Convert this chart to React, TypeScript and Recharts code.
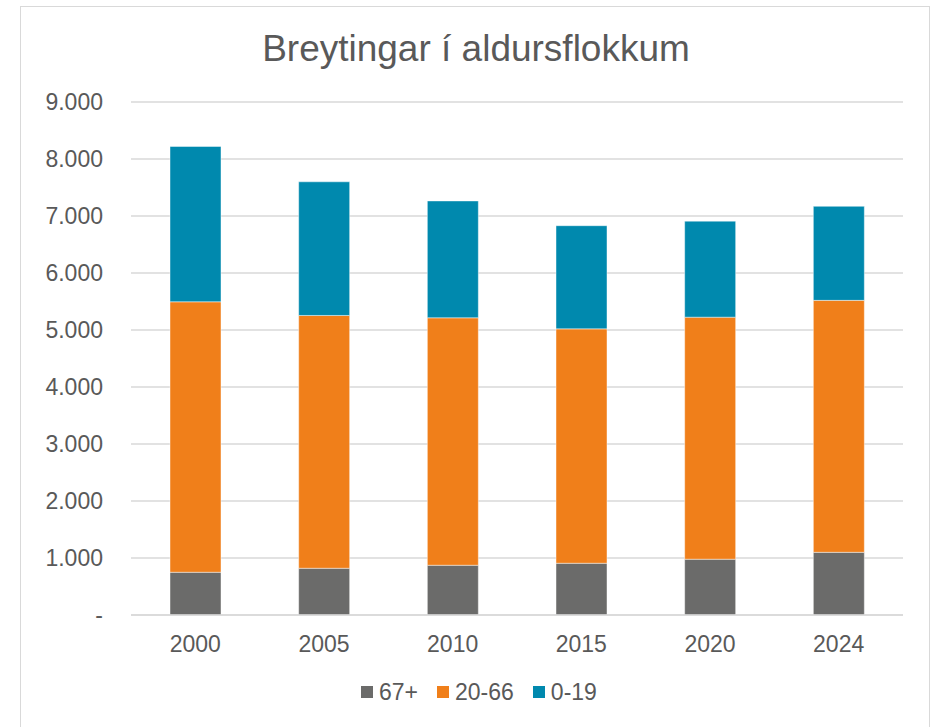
import { BarChart, Bar, XAxis, YAxis, CartesianGrid } from "recharts"

// Íbúafjöldi eftir aldursflokkum (lesið af myndinni)
const years = ["2000", "2005", "2010", "2015", "2020", "2024"]
const age67plus = [750, 820, 873, 908, 979, 1100]
const age20to66 = [4745, 4435, 4341, 4112, 4246, 4420]
const age0to19 = [2725, 2345, 2050, 1810, 1685, 1650]
const yTicks = [0, 1000, 2000, 3000, 4000, 5000, 6000, 7000, 8000, 9000]

const series = [
  { key: "a67", name: "67+", color: "#6b6b6a" },
  { key: "a20", name: "20-66", color: "#f07f1a" },
  { key: "a0", name: "0-19", color: "#0089ae" },
]

const data = years.map((year, i) => ({
  year,
  a67: age67plus[i],
  a20: age20to66[i],
  a0: age0to19[i],
}))

const font = "'Liberation Sans', Arial, sans-serif"
const textColor = "#595959"

// 9000 -> "9.000", 0 -> "-"
const formatTick = (v: number) => (v === 0 ? "-" : v.toLocaleString("de-DE"))

export default function App() {
  return (
    <div style={{ position: "fixed", left: 0, top: 0, width: 931, height: 727, background: "#fff", overflow: "hidden" }}>
      <div
        style={{
          position: "absolute",
          left: 20,
          top: 6,
          width: 910,
          height: 760,
          border: "1.5px solid #d9d9d9",
          boxSizing: "border-box",
        }}
      />
      <div
        style={{
          position: "absolute",
          left: 0,
          top: 30,
          width: 952,
          textAlign: "center",
          fontFamily: font,
          fontSize: 37,
          lineHeight: "37px",
          color: textColor,
        }}
      >
        Breytingar í aldursflokkum
      </div>
      <div style={{ position: "absolute", left: 0, top: 0 }}>
        <BarChart width={931} height={727} data={data} margin={{ top: 102, right: 28, bottom: 82, left: 51 }}>
          <CartesianGrid vertical={false} stroke="#d9d9d9" strokeWidth={1.5} />
          <XAxis
            dataKey="year"
            height={30}
            axisLine={{ stroke: "#d9d9d9", strokeWidth: 1.5 }}
            tickLine={false}
            tickSize={0}
            tickMargin={21}
            tick={{ fill: textColor, fontSize: 23, fontFamily: font }}
          />
          <YAxis
            width={80}
            domain={[0, 9000]}
            ticks={yTicks}
            tickFormatter={formatTick}
            axisLine={false}
            tickLine={false}
            tickSize={0}
            tickMargin={28}
            tick={{ fill: textColor, fontSize: 23, fontFamily: font }}
          />
          {series.map((s) => (
            <Bar
              key={s.key}
              dataKey={s.key}
              name={s.name}
              stackId="age"
              fill={s.color}
              stroke="rgba(255,255,255,0.45)"
              strokeWidth={1}
              barSize={51}
              isAnimationActive={false}
            />
          ))}
        </BarChart>
      </div>
      <div
        style={{
          position: "absolute",
          left: 361,
          top: 678,
          display: "flex",
          alignItems: "center",
          fontFamily: font,
          fontSize: 23,
          lineHeight: "28px",
          color: textColor,
        }}
      >
        {series.map((s) => (
          <div key={s.key} style={{ display: "flex", alignItems: "center", marginRight: 19 }}>
            <span style={{ width: 12, height: 12, background: s.color, marginRight: 6, display: "inline-block" }} />
            <span>{s.name}</span>
          </div>
        ))}
      </div>
    </div>
  )
}
